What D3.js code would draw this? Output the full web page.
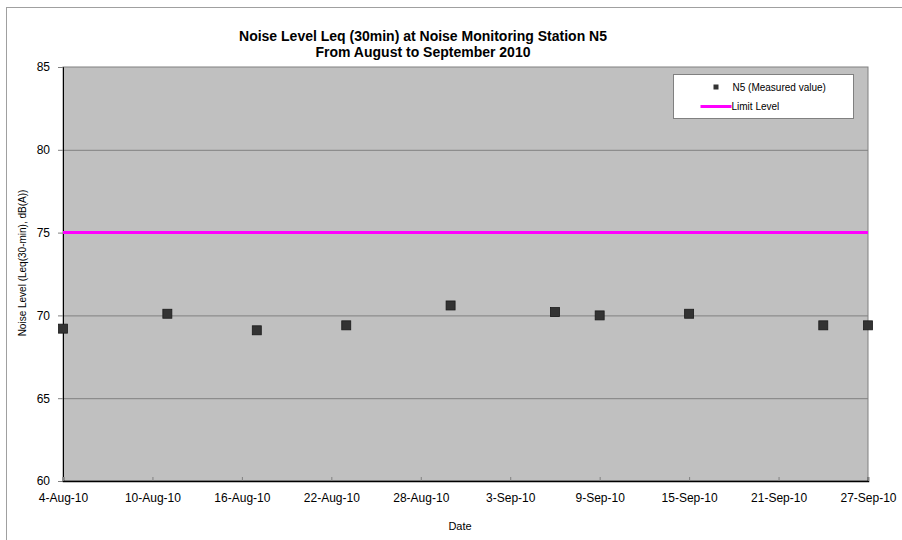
<!DOCTYPE html>
<meta charset="utf-8">
<style>
body { margin: 0; background: #fff; }
svg { font-family: Arial, "Liberation Sans", sans-serif; }
</style>
<svg width="902" height="540"></svg>
<script src="https://d3js.org/d3.v7.min.js"></script>
<script>
// measured data
var dates = ["2010-08-04", "2010-08-11", "2010-08-17", "2010-08-23", "2010-08-30",
             "2010-09-06", "2010-09-09", "2010-09-15", "2010-09-24", "2010-09-27"];
var levels = [69.2, 70.1, 69.1, 69.4, 70.6, 70.2, 70.0, 70.1, 69.4, 69.4];
var limitLevel = 75;
var yTicks = [60, 65, 70, 75, 80, 85];
var xTickDates = ["2010-08-04", "2010-08-10", "2010-08-16", "2010-08-22", "2010-08-28",
                  "2010-09-03", "2010-09-09", "2010-09-15", "2010-09-21", "2010-09-27"];

var parse = d3.utcParse("%Y-%m-%d");
var svg = d3.select("svg");
var margin = {left: 63, top: 67, right: 34, bottom: 59};
var width = 902 - margin.left - margin.right,
    height = 540 - margin.top - margin.bottom;

// outer chart frame (clipped at right/bottom)
svg.append("rect")
    .attr("x", 6.5).attr("y", 7.5)
    .attr("width", 920).attr("height", 560)
    .attr("fill", "none").attr("stroke", "#a0a0a0");

var x = d3.scaleUtc()
    .domain([parse("2010-08-04"), parse("2010-09-27")])
    .range([0, width]);
var y = d3.scaleLinear().domain([60, 85]).range([height, 0]);

var g = svg.append("g").attr("transform", "translate(" + margin.left + "," + margin.top + ")");

g.append("rect")
    .attr("width", width).attr("height", height)
    .attr("fill", "#c0c0c0").attr("stroke", "#808080");

// gridlines
g.selectAll(".grid")
    .data(yTicks.slice(1, -1))
  .enter().append("line")
    .attr("x1", 0).attr("x2", width)
    .attr("y1", function(d) { return y(d) + 0.5; })
    .attr("y2", function(d) { return y(d) + 0.5; })
    .attr("stroke", "#808080");

// axes
var yAxis = g.append("g")
    .call(d3.axisLeft(y).tickValues(yTicks).tickSize(5).tickPadding(8));
yAxis.select(".domain").attr("stroke", "#000");
yAxis.selectAll(".tick line").attr("stroke", "#808080");
yAxis.selectAll("text").attr("font-size", 12).attr("fill", "#000").attr("font-family", "Arial, sans-serif");

var fmt = d3.utcFormat("%-d-%b-%y");
var xAxis = g.append("g")
    .attr("transform", "translate(0," + height + ")")
    .call(d3.axisBottom(x).tickValues(xTickDates.map(parse)).tickFormat(fmt).tickSize(-4).tickPadding(12));
xAxis.select(".domain").attr("stroke", "#000").attr("stroke-width", 1.5);
xAxis.selectAll(".tick line").attr("stroke", "#808080");
xAxis.selectAll("text").attr("font-size", 12).attr("fill", "#000").attr("font-family", "Arial, sans-serif");

// limit line
g.append("line")
    .attr("x1", 0).attr("x2", width)
    .attr("y1", y(limitLevel)).attr("y2", y(limitLevel))
    .attr("stroke", "#ff00ff").attr("stroke-width", 3);

// points
g.selectAll(".pt")
    .data(dates.map(function(d, i) { return {date: parse(d), v: levels[i]}; }))
  .enter().append("rect")
    .attr("x", function(d) { return x(d.date) - 4.5; })
    .attr("y", function(d) { return y(d.v) - 4.5; })
    .attr("width", 9).attr("height", 9)
    .attr("fill", "#333333").attr("stroke", "#1a1a1a").attr("stroke-width", 0.8);

// title
svg.append("text")
    .attr("x", 423).attr("y", 41)
    .attr("text-anchor", "middle").attr("font-size", 14).attr("font-weight", "bold")
    .text("Noise Level Leq (30min) at Noise Monitoring Station N5");
svg.append("text")
    .attr("x", 423).attr("y", 57)
    .attr("text-anchor", "middle").attr("font-size", 14).attr("font-weight", "bold")
    .text("From August to September 2010");

// axis titles
svg.append("text")
    .attr("x", 460).attr("y", 530)
    .attr("text-anchor", "middle").attr("font-size", 11)
    .text("Date");
svg.append("text")
    .attr("transform", "translate(26,263) rotate(-90)")
    .attr("text-anchor", "middle").attr("font-size", 10)
    .text("Noise Level (Leq(30-min), dB(A))");

// legend
var lg = svg.append("g").attr("transform", "translate(673.5,74.5)");
lg.append("rect").attr("width", 180).attr("height", 44)
    .attr("fill", "#fff").attr("stroke", "#808080");
lg.append("rect").attr("x", 40).attr("y", 10).attr("width", 5).attr("height", 5).attr("fill", "#333");
lg.append("text").attr("x", 59).attr("y", 16.5).attr("font-size", 10).text("N5 (Measured  value)");
lg.append("line").attr("x1", 27).attr("x2", 58).attr("y1", 32).attr("y2", 32)
    .attr("stroke", "#ff00ff").attr("stroke-width", 3);
lg.append("text").attr("x", 58).attr("y", 35.5).attr("font-size", 10).text("Limit Level");
</script>
